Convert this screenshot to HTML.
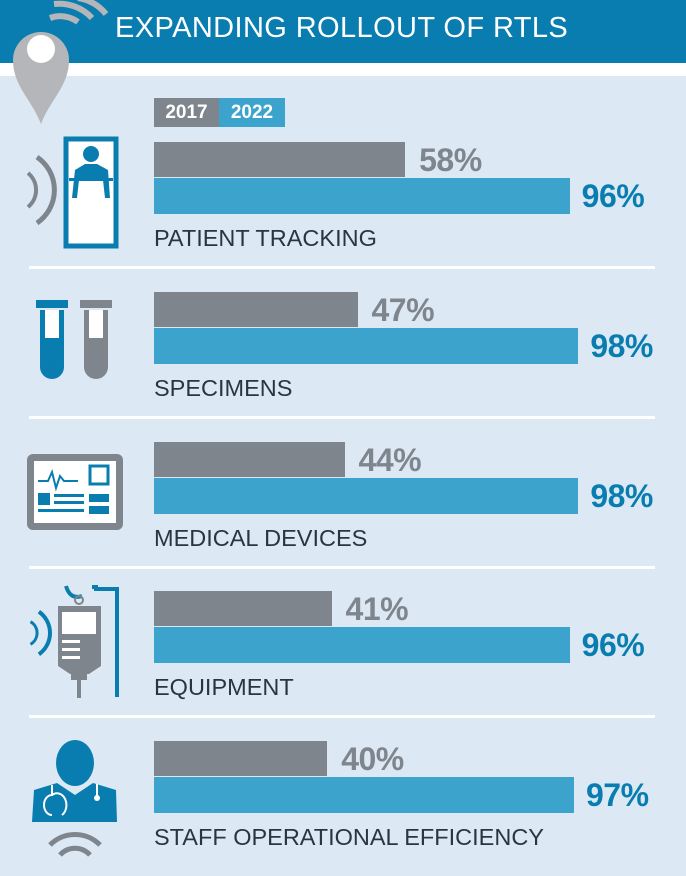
<!DOCTYPE html>
<html><head><meta charset="utf-8"><style>
body{margin:0;width:686px;height:876px;overflow:hidden;background:#dce9f5;font-family:"Liberation Sans",Arial,sans-serif;position:relative}
#hdr{position:absolute;left:0;top:0;width:686px;height:63px;background:#0a7db0}
#strip{position:absolute;left:0;top:63px;width:686px;height:13px;background:#fff}
#title{position:absolute;left:115px;top:12px;color:#fff;font-size:29px;letter-spacing:0.4px;white-space:nowrap}
.lg{position:absolute;top:98px;height:29px;color:#fff;font-weight:bold;font-size:19px;line-height:29px;text-align:center}
.bar{position:absolute;left:154px}
.val{position:absolute;font-weight:bold;font-size:32px;letter-spacing:-0.5px;line-height:36px}
.lab{position:absolute;left:154px;font-size:23.5px;color:#2b3540;white-space:nowrap}
.sep{position:absolute;left:29px;width:626px;height:3px;background:#fff}
svg{position:absolute;left:0;top:0}
</style></head><body>
<div id="hdr"></div>
<div id="strip"></div>
<div id="title">EXPANDING ROLLOUT OF RTLS</div>
<div class="lg" style="left:154px;width:65px;background:#7f858c">2017</div>
<div class="lg" style="left:219px;width:66px;background:#3ca4cc">2022</div>
<svg width="686" height="876">
 <!-- pin -->
 <path d="M41 124 C32 100 13 86 13 60 A28 28 0 0 1 69 60 C69 86 50 100 41 124Z" fill="#b4b6b9"/>
 <circle cx="41" cy="49" r="14" fill="#fff"/>
 <path d="M50 18 A30 30 0 0 1 78 22" stroke="#b4b6b9" stroke-width="6" fill="none"/>
 <path d="M54 4 A45 45 0 0 1 92 18" stroke="#b4b6b9" stroke-width="6" fill="none"/>
 <path d="M78 -2 A45 45 0 0 1 106 14" stroke="#b4b6b9" stroke-width="6" fill="none"/>
 <!-- bed -->
 <rect x="66" y="139" width="50" height="107" fill="#fff" stroke="#0a7db0" stroke-width="5"/>
 <circle cx="91" cy="154" r="8" fill="#0a7db0"/>
 <path d="M75 170 L85 164 L97 164 L108 170 L110 198 L105 198 L103 180 L79 180 L77 198 L72 198Z" fill="#0a7db0"/>
 <rect x="69" y="178" width="44" height="3" fill="#0a7db0"/>
 <path d="M28 173 A22 22 0 0 1 28 207" stroke="#7f858c" stroke-width="4" fill="none"/>
 <path d="M37 157 A40 40 0 0 1 37 223" stroke="#7f858c" stroke-width="5" fill="none"/>
 <!-- tubes -->
 <path d="M40 310 V367 A12 12 0 0 0 64 367 V310Z" fill="#0a7db0"/>
 <rect x="36" y="300" width="32" height="8" fill="#0a7db0"/>
 <rect x="45" y="310" width="14" height="28" fill="#fff"/>
 <path d="M84 310 V367 A12 12 0 0 0 108 367 V310Z" fill="#7f858c"/>
 <rect x="80" y="300" width="32" height="8" fill="#7f858c"/>
 <rect x="89" y="310" width="14" height="28" fill="#fff"/>
 <!-- monitor -->
 <rect x="27" y="454" width="96" height="76" rx="6" fill="#7f858c"/>
 <rect x="34" y="461" width="82" height="62" fill="#fff"/>
 <polyline points="38,481 48,481 52,472 56,488 60,476 64,481 78,481" stroke="#0a7db0" stroke-width="2" fill="none"/>
 <rect x="90" y="466" width="18" height="18" fill="none" stroke="#0a7db0" stroke-width="3"/>
 <rect x="38" y="493" width="12" height="12" fill="#0a7db0"/>
 <rect x="54" y="494" width="30" height="3" fill="#0a7db0"/><rect x="54" y="501" width="30" height="3" fill="#0a7db0"/><rect x="38" y="509" width="46" height="3" fill="#0a7db0"/>
 <rect x="89" y="494" width="20" height="8" fill="#0a7db0"/><rect x="89" y="506" width="20" height="8" fill="#0a7db0"/>
 <!-- IV -->
 <path d="M66 586 Q70 600 82 596 M92 587 L96 587 L96 589 L117 589 V697" stroke="#0a7db0" stroke-width="4" fill="none"/>
 <circle cx="79" cy="600" r="4" fill="none" stroke="#7f858c" stroke-width="2"/>
 <path d="M58 606 H101 V666 L89 674 H70 L58 666Z" fill="#7f858c"/>
 <rect x="62" y="612" width="34" height="22" fill="#fff"/>
 <rect x="62" y="640" width="18" height="3" fill="#fff"/><rect x="62" y="648" width="18" height="3" fill="#fff"/><rect x="62" y="656" width="18" height="3" fill="#fff"/>
 <rect x="71" y="674" width="16" height="6" fill="#7f858c"/><rect x="77" y="680" width="4" height="18" fill="#7f858c"/>
 <path d="M30.5 621.7 A13 13 0 0 1 30.5 644.3" stroke="#0a7db0" stroke-width="3" fill="none"/>
 <path d="M38.9 611.7 A26 26 0 0 1 38.9 654.3" stroke="#0a7db0" stroke-width="4" fill="none"/>
 <!-- doctor -->
 <ellipse cx="75" cy="763" rx="19" ry="23" fill="#0a7db0"/>
 <path d="M34 790 L57 783 L75 795 L93 783 L116 790 L117 822 L32 822Z" fill="#0a7db0"/>
 <path d="M52 785 V795 A8 10 0 0 0 52 815 M62 815 A8 10 0 0 0 52 795" stroke="#fff" stroke-width="2" fill="none"/>
 <path d="M97 784 V796" stroke="#fff" stroke-width="2"/><circle cx="97" cy="798" r="3" fill="#fff"/>
 <path d="M50 845 A35 35 0 0 1 100 845" stroke="#7f858c" stroke-width="5" fill="none"/>
 <path d="M60 855 A20 20 0 0 1 90 855" stroke="#7f858c" stroke-width="5" fill="none"/>
</svg>
<div id="chart"></div>
<script>
const categories=["PATIENT TRACKING","SPECIMENS","MEDICAL DEVICES","EQUIPMENT","STAFF OPERATIONAL EFFICIENCY"];
const values2017=[58,47,44,41,40];
const values2022=[96,98,98,96,97];
const X0=154,SCALE=4.33,ROW0=142,STEP=149.75;
const xw=v=>v*SCALE;
const c=document.getElementById('chart');
function mk(cls,css,txt){const d=document.createElement('div');d.className=cls;d.style.cssText=css;if(txt!=null)d.textContent=txt;c.appendChild(d);return d;}
categories.forEach((cat,i)=>{
 const y=ROW0+i*STEP;
 let b=mk('bar',`top:${y}px;height:35px;width:${xw(values2017[i])}px;background:#7f858c`);
 
 
 b=mk('bar',`top:${y+36}px;height:36px;width:${xw(values2022[i])}px;background:#3ca4cc`);
 
 
 let v=mk('val',`left:${X0+xw(values2017[i])+14}px;top:${y}px;color:#7f858c`,values2017[i]+'%');
 
 
 v=mk('val',`left:${X0+xw(values2022[i])+12}px;top:${y+36}px;color:#0a7db0`,values2022[i]+'%');
 
 
 const l=mk('lab',`top:${y+83}px`,cat);
 
 
 if(i<categories.length-1){const s=mk('sep',`top:${y+124}px`);
  
  }
});
</script>
</body></html>
